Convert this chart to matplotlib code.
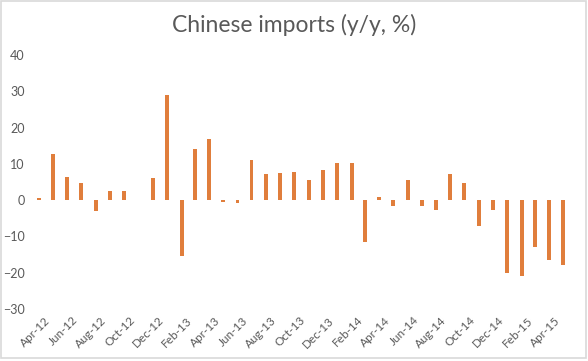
import pandas as pd
import matplotlib.pyplot as plt
import matplotlib.dates as mdates
import matplotlib.transforms as mtransforms
from matplotlib.patches import Rectangle

plt.rcParams['font.family'] = ['Lato', 'DejaVu Sans']

# monthly Chinese imports, y/y %
months = pd.date_range('2012-04-01', '2015-05-01', freq='MS')
imports = [0.5, 12.8, 6.4, 4.8, -2.9, 2.6, 2.6, 0.0, 6.2, 29.1,
           -15.4, 14.2, 16.9, -0.5, -0.7, 11.1, 7.3, 7.5, 7.8, 5.5,
           8.3, 10.2, 10.2, -11.5, 0.8, -1.6, 5.5, -1.6, -2.6, 7.2,
           4.7, -7.0, -2.7, -20.0, -20.9, -12.9, -16.5, -17.8]
tick_months = pd.date_range('2012-04-01', '2015-04-01', freq='2MS')
yticks = [-30, -20, -10, 0, 10, 20, 30, 40]

grey = '#595959'
orange = '#E07E3C'

fig = plt.figure(figsize=(5.88, 3.61), dpi=100)
ax = fig.add_axes([0.0561, 0.144, 0.9167, 0.7036])

ax.bar(months, imports, width=8.5, color=orange)

ax.set_xlim(pd.Timestamp('2012-03-19'), pd.Timestamp('2015-05-20'))
ax.set_ylim(-30, 40)
ax.set_yticks(yticks)
ax.set_xticks(tick_months)
ax.xaxis.set_major_formatter(mdates.DateFormatter('%b-%y'))
ax.xaxis.set_minor_locator(plt.NullLocator())

for s in ax.spines.values():
    s.set_visible(False)
ax.tick_params(axis='both', length=0, colors=grey, labelsize=8.5)
ax.tick_params(axis='y', labelsize=9, pad=6)
ax.tick_params(axis='x', pad=4)
shift = mtransforms.ScaledTranslation(5 / 100, 0, fig.dpi_scale_trans)
for lbl in ax.get_xticklabels():
    lbl.set_rotation(45)
    lbl.set_ha('right')
    lbl.set_va('top')
    lbl.set_rotation_mode('anchor')
    lbl.set_transform(lbl.get_transform() + shift)

fig.text(0.5, 0.93, 'Chinese imports (y/y, %)', ha='center', va='center',
         fontsize=16.5, color=grey)

fig.add_artist(Rectangle((0.002, 0.008), 0.995, 0.99, transform=fig.transFigure,
                         fill=False, edgecolor='#D9D9D9', lw=1.2))

fig.savefig('out.png', dpi=100)
